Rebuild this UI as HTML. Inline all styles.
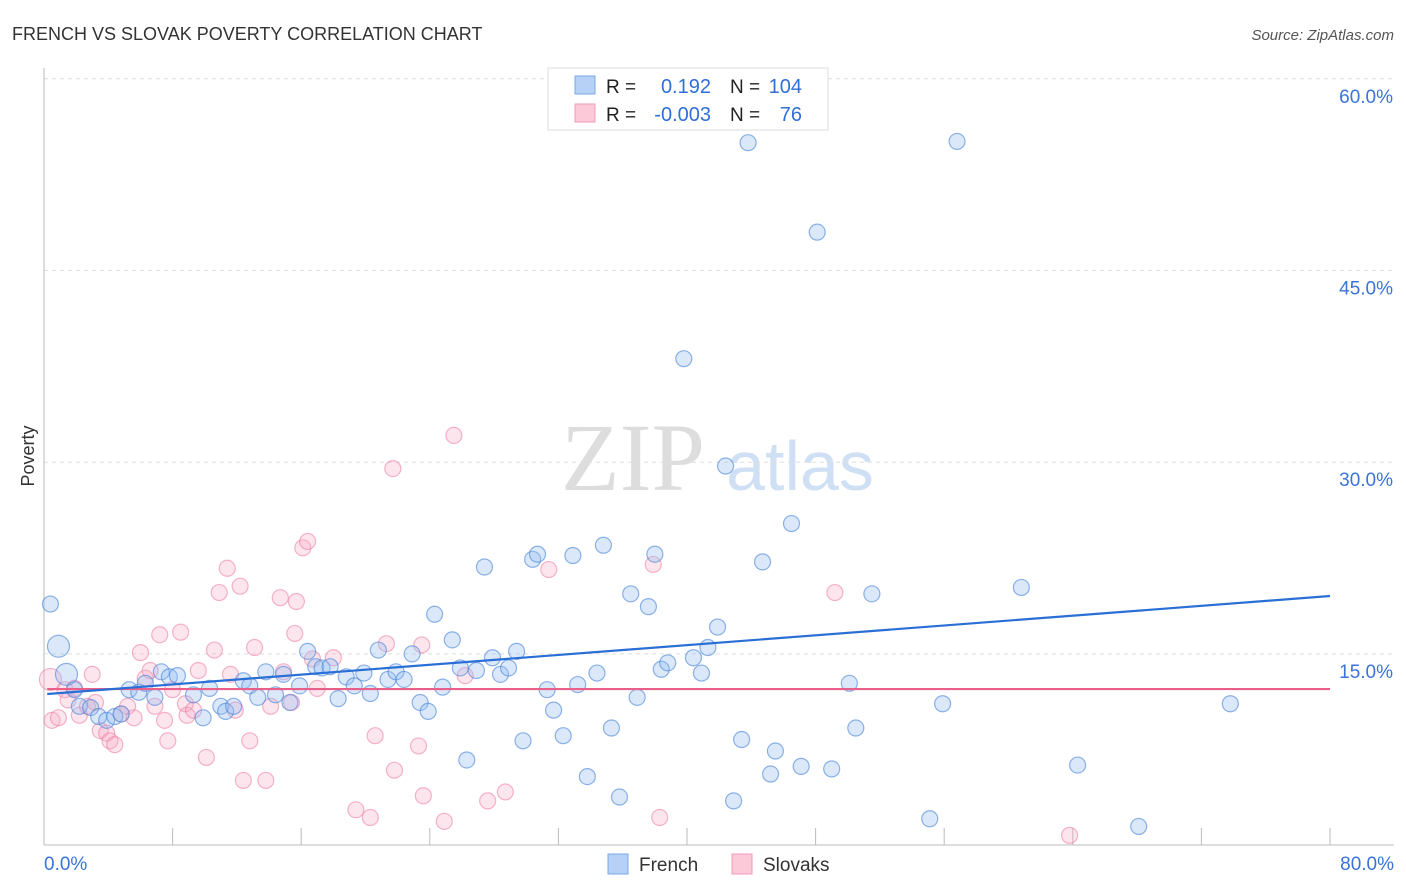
<!DOCTYPE html>
<html><head><meta charset="utf-8"><style>
body{margin:0;background:#fff;font-family:"Liberation Sans",sans-serif;}
svg{display:block}
</style></head><body>
<svg id="chart" width="1406" height="892">
<text x="12" y="40" font-size="18" fill="#333">FRENCH VS SLOVAK POVERTY CORRELATION CHART</text>
<text x="1394" y="40" font-size="15" fill="#555" font-style="italic" text-anchor="end">Source: ZipAtlas.com</text>
<text x="34" y="456" font-size="18" fill="#333" transform="rotate(-90 34 456)" text-anchor="middle">Poverty</text>
<g><text x="633" y="490" font-family="Liberation Serif,serif" font-size="96" fill="#ddd" text-anchor="middle">ZIP</text><text x="800" y="490" font-size="70" fill="#cfe0f5" text-anchor="middle">atlas</text></g>
<g id="grid"></g><g id="axes"></g><g id="pts"></g><g id="trend"></g>
<g>
<rect x="548" y="68" width="280" height="62" fill="#fff" stroke="#ddd"/>
<rect x="575" y="76" width="20" height="18" fill="#b7d0f5" stroke="#7aa7e6"/>
<rect x="575" y="104" width="20" height="18" fill="#fbc9d8" stroke="#f09ab5"/>
<text x="606" y="93" font-size="19" fill="#222">R =</text><text x="711" y="93" font-size="20" fill="#2f6fd8" text-anchor="end">0.192</text>
<text x="730" y="93" font-size="19" fill="#222">N =</text><text x="802" y="93" font-size="20" fill="#2f6fd8" text-anchor="end">104</text>
<text x="606" y="121" font-size="19" fill="#222">R =</text><text x="711" y="121" font-size="20" fill="#2f6fd8" text-anchor="end">-0.003</text>
<text x="730" y="121" font-size="19" fill="#222">N =</text><text x="802" y="121" font-size="20" fill="#2f6fd8" text-anchor="end">76</text>
</g>
<g>
<rect x="608" y="854" width="20" height="20" fill="#b7d0f5" stroke="#7aa7e6"/><text x="639" y="871" font-size="19" fill="#333">French</text>
<rect x="732" y="854" width="20" height="20" fill="#fbc9d8" stroke="#f09ab5"/><text x="763" y="871" font-size="19" fill="#333">Slovaks</text>
</g>
</svg>
<script>
const yTicks=[15,30,45,60];
const yTickLabels=["15.0%","30.0%","45.0%","60.0%"];
const xTickLabels=["0.0%","80.0%"];
const frenchX=[0.4,0.9,1.4,1.9,2.2,2.9,3.4,3.9,4.4,4.8,5.3,5.9,6.3,6.9,7.3,7.8,8.3,9.3,9.9,10.3,11.0,11.3,11.8,12.4,12.8,13.3,13.8,14.4,14.9,15.3,15.9,16.4,16.9,17.3,17.8,18.3,18.8,19.3,19.9,20.3,20.8,21.4,21.9,22.4,22.9,23.4,23.9,24.3,24.8,25.4,25.9,26.3,26.9,27.4,27.9,28.4,28.9,29.4,29.8,30.4,30.7,31.3,31.7,32.3,32.9,33.2,33.8,34.4,34.8,35.3,35.8,36.5,36.9,37.6,38.0,38.4,38.8,39.8,40.4,40.9,41.3,41.9,42.4,42.9,43.4,43.8,44.7,45.5,45.2,46.5,47.1,48.1,49.0,50.1,50.5,51.5,55.1,55.9,56.8,60.8,64.3,68.1,73.8];
const frenchY=[18.9,15.6,13.4,12.2,10.9,10.8,10.1,9.8,10.1,10.3,12.2,12.0,12.7,11.6,13.6,13.2,13.3,11.8,10.0,12.3,10.9,10.5,10.9,12.9,12.5,11.6,13.6,11.8,13.4,11.2,12.5,15.2,14.0,13.9,14.0,11.5,13.2,12.5,13.5,11.9,15.3,13.0,13.6,13.0,15.0,11.2,10.5,18.1,12.4,16.1,13.9,6.7,13.7,21.8,14.7,13.4,13.9,15.2,8.2,22.4,22.8,12.2,10.6,8.6,22.7,12.6,5.4,13.5,23.5,9.2,3.8,19.7,11.6,18.7,22.8,13.8,14.3,38.1,14.7,13.5,15.5,17.1,29.7,3.5,8.3,55.0,22.2,7.4,5.6,25.2,6.2,48.0,6.0,12.7,9.2,19.7,2.1,11.1,55.1,20.2,6.3,1.5,11.1];
const slovakX=[0.4,0.5,0.9,1.3,1.5,1.9,2.2,2.7,3.0,3.2,3.5,3.9,4.1,4.4,4.8,5.2,5.6,6.0,6.3,6.6,6.9,7.2,7.5,7.7,8.0,8.5,8.8,8.9,9.3,9.6,10.1,10.6,10.9,11.4,11.6,11.9,12.2,12.4,12.8,13.1,13.8,14.1,14.7,14.9,15.4,15.6,15.7,16.1,16.4,16.7,17.0,18.0,19.4,20.3,20.6,21.3,21.7,21.8,23.3,23.5,23.6,24.9,25.5,26.2,27.6,28.7,31.4,37.9,38.3,49.2,63.8];
const slovakY=[13.0,9.8,10.0,12.2,11.4,12.3,10.2,10.9,13.4,11.2,9.0,8.8,8.2,7.9,10.3,10.9,10.0,15.1,13.1,13.7,10.9,16.5,9.8,8.2,12.2,16.7,11.1,10.2,10.6,13.7,6.9,15.3,19.8,21.7,13.4,10.6,20.3,5.1,8.2,15.5,5.1,10.9,19.4,13.6,11.2,16.6,19.1,23.3,23.8,14.6,12.3,14.7,2.8,2.2,8.6,15.8,29.5,5.9,7.8,15.7,3.9,1.9,32.1,13.3,3.5,4.2,21.6,22.0,2.2,19.8,0.8];
const frenchLargeIdx=[1,2];
const frenchTrend=[11.86,19.53];
const slovakTrend=[12.25,12.25];
const NS="http://www.w3.org/2000/svg";
const X=v=>44+v*(1286/80);
const Y=v=>845.6-v*12.78;
function mk(t,a,p){const e=document.createElementNS(NS,t);for(const k in a)e.setAttribute(k,a[k]);p.appendChild(e);return e;}
const grid=document.getElementById('grid'),axes=document.getElementById('axes'),pts=document.getElementById('pts'),tr=document.getElementById('trend');
yTicks.forEach((t,i)=>{
 const l=mk('line',{x1:44,x2:1394,y1:Y(t),y2:Y(t),stroke:'#ddd','stroke-dasharray':'4,4'},grid);
 
 
 const tx=mk('text',{x:1393,y:Y(t)+24,'font-size':19,fill:'#3a74d8','text-anchor':'end'},axes);
 tx.textContent=yTickLabels[i];
 
 
});
mk('line',{x1:44,x2:44,y1:68,y2:845,stroke:'#bbb'},axes);
mk('line',{x1:44,x2:1394,y1:845,y2:845,stroke:'#bbb'},axes);
for(let i=1;i<=10;i++){mk('line',{x1:X(i*8),x2:X(i*8),y1:828,y2:845,stroke:'#bbb'},axes);}
const xl0=mk('text',{x:44,y:870,'font-size':19,fill:'#3a74d8'},axes);xl0.textContent=xTickLabels[0];


const xl1=mk('text',{x:1394,y:870,'font-size':19,fill:'#3a74d8','text-anchor':'end'},axes);xl1.textContent=xTickLabels[1];


slovakX.forEach((x,i)=>{
 const c=mk('circle',{cx:X(x),cy:Y(slovakY[i]),r:i==0?11:8,fill:'rgba(247,168,195,0.3)',stroke:'rgba(236,120,160,0.55)','stroke-width':1.2},pts);
 
 
});
frenchX.forEach((x,i)=>{
 const c=mk('circle',{cx:X(x),cy:Y(frenchY[i]),r:frenchLargeIdx.includes(i)?11:8,fill:'rgba(150,190,240,0.35)',stroke:'rgba(70,130,215,0.6)','stroke-width':1.2},pts);
 
 
});
const t1=mk('line',{x1:X(0.2),x2:X(80),y1:Y(slovakTrend[0]),y2:Y(slovakTrend[1]),stroke:'#e8608a','stroke-width':2.2},tr);


const t2=mk('line',{x1:X(0.2),x2:X(80),y1:Y(frenchTrend[0]),y2:Y(frenchTrend[1]),stroke:'#2a6fd6','stroke-width':2.2},tr);


</script>
</body></html>
